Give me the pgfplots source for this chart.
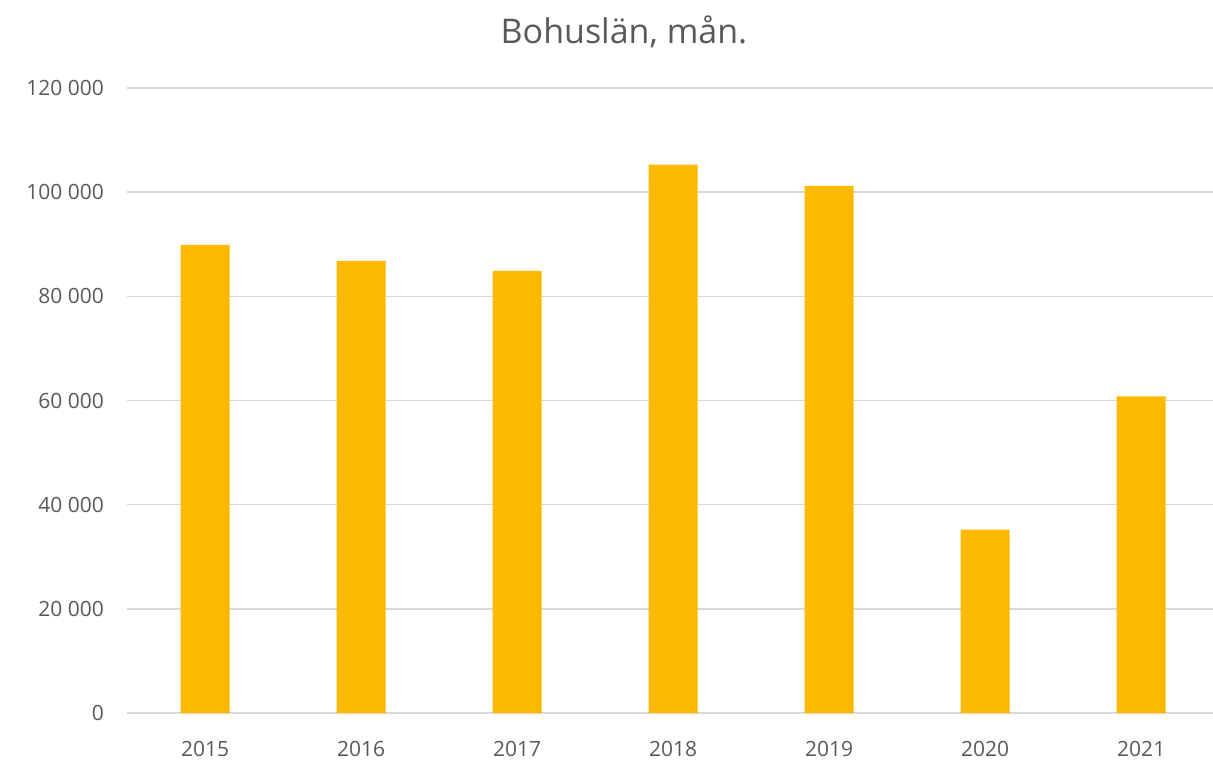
\documentclass[border=0pt]{standalone}
\usepackage{fontspec}
\setmainfont{Open Sans}
\usepackage{pgfplots}
\pgfplotsset{compat=1.18}
\definecolor{barc}{HTML}{FBBA00}
\definecolor{gridc}{HTML}{D9D9D9}
\definecolor{txt}{HTML}{595959}
\begin{document}
\begin{tikzpicture}
\begin{axis}[
  scale only axis,
  width=543pt, height=312.5pt,
  xmin=-0.5, xmax=6.46,
  ymin=0, ymax=120000,
  ytick={0,20000,40000,60000,80000,100000,120000},
  yticklabels={0,20 000,40 000,60 000,80 000,100 000,120 000},
  xtick={0,1,2,3,4,5,6},
  xticklabels={2015,2016,2017,2018,2019,2020,2021},
  scaled y ticks=false,
  ymajorgrids, grid style={gridc, line width=0.7pt},
  axis x line*=bottom,
  axis y line*=left,
  x axis line style={draw=gridc, line width=0.7pt},
  y axis line style={draw=none},
  major tick length=0pt,
  tick label style={font=\fontsize{10.5pt}{12pt}\selectfont, text=txt},
  yticklabel style={xshift=-8pt},
  xticklabel style={yshift=-10.5pt},
  ybar, bar width=24.5pt,
  clip=false,
]
\addplot[fill=barc, draw=none] coordinates {
 (0,89900) (1,86800) (2,84900) (3,105300) (4,101200) (5,35200) (6,60800)};
\node[text=txt, font=\fontsize{17pt}{20pt}\selectfont, anchor=base] at (rel axis cs:0.4576,1) [yshift=22pt] {Bohuslän, mån.};
\end{axis}
\pgfresetboundingbox
\path[use as bounding box] ([xshift=-63.5pt,yshift=-23pt]current axis.south west) rectangle ([yshift=44pt]current axis.north east);
\end{tikzpicture}
\end{document}
